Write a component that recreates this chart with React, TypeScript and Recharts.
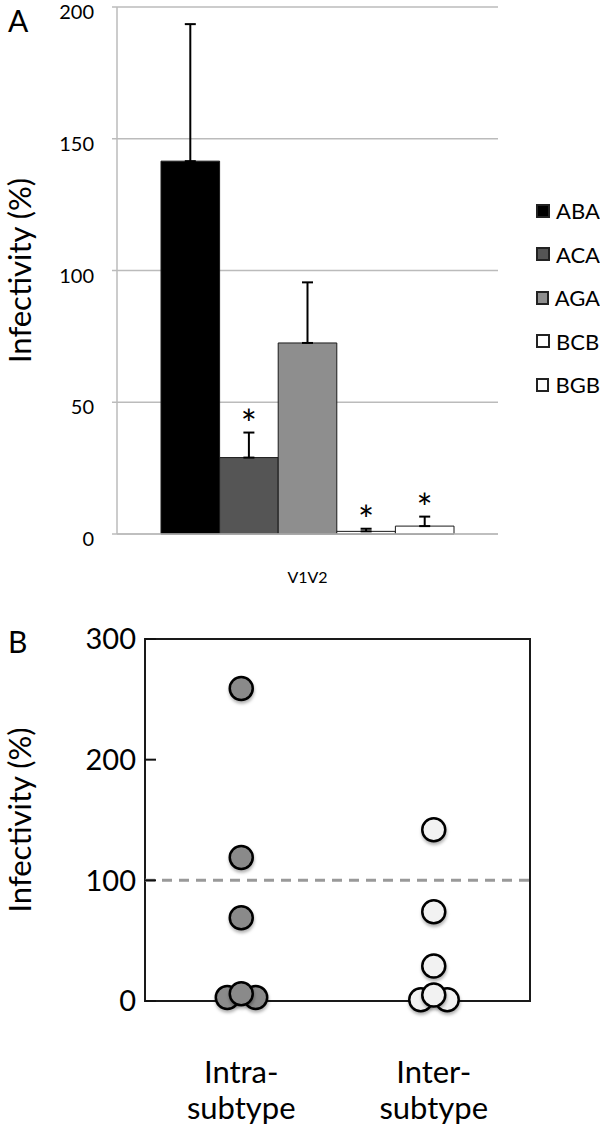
import React from 'react';
import {
  BarChart, Bar, XAxis, YAxis, CartesianGrid, ErrorBar, Legend, LabelList,
  ScatterChart, Scatter, ReferenceLine, ReferenceArea,
} from 'recharts';

const FONT = 'Lato, "Open Sans", sans-serif';

// Panel A: infectivity of V1V2 chimeras
const regionLabel = 'V1V2';
const chimeras = ['ABA', 'ACA', 'AGA', 'BCB', 'BGB'];
const meanInfectivity = [141.5, 29, 72.5, 1, 3];
const sdInfectivity = [52, 9.5, 23, 1, 3.6];
const significant = [false, true, false, true, true];
const barColors = ['#000000', '#555555', '#8e8e8e', '#ffffff', '#ffffff'];
const ticksA = [0, 50, 100, 150, 200];

// Panel B: individual chimeras grouped by subtype
const groupLabels = [['Intra-', 'subtype'], ['Inter-', 'subtype']];
const intraValues = [259, 119, 69, 3, 3, 6];
const intraJitter = [0, 0, 0, -0.145, 0.15, 0];
const interValues = [142, 74, 29, 1, 1, 5];
const interJitter = [0, 0, 0, -0.135, 0.14, 0];
const ticksB = [0, 100, 200, 300];

const barRow: Record<string, any> = { name: regionLabel };
chimeras.forEach((c, i) => {
  barRow[c] = meanInfectivity[i];
  barRow[`${c}_err`] = [0, sdInfectivity[i]];
  barRow[`${c}_sig`] = significant[i] ? '*' : '';
});
const barData = [barRow];

const intraPoints = intraValues.map((v, i) => ({ x: 1 + intraJitter[i], y: v }));
const interPoints = interValues.map((v, i) => ({ x: 3 + interJitter[i], y: v }));

const starLabel = (i: number) => (props: any) => {
  const { x, y, width, height, value } = props;
  if (!value) return null;
  const perUnit = height / meanInfectivity[i];
  const top = y - sdInfectivity[i] * perUnit;
  return (
    <text x={x + width / 2} y={top + 5} textAnchor="middle" fontSize={38} fontFamily={FONT} fill="#000">
      {value}
    </text>
  );
};

const axisTitle = (cx: number) => (props: any) => {
  const { viewBox } = props;
  const cy = viewBox.y + viewBox.height / 2;
  return (
    <text x={cx} y={cy} transform={`rotate(-90, ${cx}, ${cy})`} textAnchor="middle"
      dominantBaseline="central" fontSize={31} fontFamily={FONT} fill="#000">
      Infectivity (%)
    </text>
  );
};

const LegendA = (props: any) => (
  <div style={{ fontFamily: FONT }}>
    {(props.payload || []).map((p: any) => (
      <div key={p.value} style={{ display: 'flex', alignItems: 'center', height: 43.5 }}>
        <span style={{ width: 10, height: 10, border: '2px solid #222', background: p.color, display: 'inline-block' }} />
        <span style={{ marginLeft: 6, fontSize: 22, color: '#000' }}>{p.value}</span>
      </div>
    ))}
  </div>
);

const TickA = (props: any) => {
  const { x, y, payload } = props;
  return (
    <text x={x} y={y + 5} dy="0.355em" textAnchor="end" fontSize={20} fontFamily={FONT} fill="#000">
      {payload.value}
    </text>
  );
};

const TickB = (props: any) => {
  const { x, y, payload } = props;
  return (
    <g>
      <line x1={x + 9} x2={x + 20} y1={y} y2={y} stroke="#111" strokeWidth={2} />
      <text x={x} y={y} dy="0.355em" textAnchor="end" fontSize={29} fontFamily={FONT} fill="#000">
        {payload.value}
      </text>
    </g>
  );
};

const GroupTick = (props: any) => {
  const { x, y, payload } = props;
  const lines = groupLabels[payload.value === 1 ? 0 : 1];
  return (
    <text x={x} y={y} textAnchor="middle" fontSize={31} fontFamily={FONT} fill="#000">
      <tspan x={x} dy={82}>{lines[0]}</tspan>
      <tspan x={x} dy={36}>{lines[1]}</tspan>
    </text>
  );
};

const Dot = (fill: string) => (props: any) => (
  <circle cx={props.cx} cy={props.cy} r={11.5} fill={fill} stroke="#000" strokeWidth={2.5}
    filter="url(#dotShadow)" />
);

export default function App() {
  return (
    <div style={{ position: 'absolute', left: 0, top: 0, width: 600, height: 1130, background: '#fff', fontFamily: FONT }}>
      <svg width={600} height={1130} style={{ position: 'absolute', left: 0, top: 0 }}>
        <defs>
          <filter id="dotShadow" x="-50%" y="-50%" width="200%" height="200%">
            <feDropShadow dx="0.5" dy="2.5" stdDeviation="1.8" floodColor="#000" floodOpacity="0.3" />
          </filter>
        </defs>
        <text x={8} y={32} fontSize={30} fontFamily={FONT} fill="#000">A</text>
        <text x={8} y={653} fontSize={30} fontFamily={FONT} fill="#000">B</text>
      </svg>

      <div style={{ position: 'absolute', left: 0, top: 0 }}>
        <BarChart width={600} height={600} data={barData} barGap={0}
          margin={{ top: 7, right: 102, left: 0, bottom: 0 }}>
          <CartesianGrid vertical={false} stroke="#bbbbbb" strokeWidth={1.5} />
          <XAxis dataKey="name" height={66} axisLine={{ stroke: '#bbbbbb', strokeWidth: 1.5 }}
            tickLine={false} tickSize={0} tickMargin={38}
            tick={{ fontSize: 16, fontFamily: FONT, fill: '#000' }} />
          <YAxis width={117} domain={[0, 200]} ticks={ticksA} interval={0}
            axisLine={{ stroke: '#bbbbbb', strokeWidth: 1.5 }}
            tickLine={{ stroke: '#bbbbbb', strokeWidth: 1.5 }} tickSize={5} tickMargin={18}
            tick={<TickA />}
            label={{ content: axisTitle(19) }} />
          <YAxis yAxisId="frame" orientation="right" width={0} domain={[0, 200]} tick={false}
            tickLine={false} axisLine={{ stroke: '#bbbbbb', strokeWidth: 1.5 }} />
          <Legend layout="vertical" align="center" verticalAlign="middle" content={LegendA}
            wrapperStyle={{ left: 536, top: 189, width: 64 }} />
          {chimeras.map((c, i) => (
            <Bar key={c} dataKey={c} name={c} fill={barColors[i]} stroke="#1a1a1a" strokeWidth={1}
              barSize={58.6} isAnimationActive={false}>
              <ErrorBar dataKey={`${c}_err`} direction="y" width={5.5} stroke="#000" strokeWidth={2} />
              <LabelList dataKey={`${c}_sig`} content={starLabel(i)} />
            </Bar>
          ))}
        </BarChart>
      </div>

      <div style={{ position: 'absolute', left: 0, top: 600 }}>
        <ScatterChart width={600} height={530} margin={{ top: 39, right: 70, left: 0, bottom: 0 }}>
          <XAxis type="number" dataKey="x" domain={[0, 4]} ticks={[1, 3]} interval={0} height={129}
            axisLine={false} tickLine={false} tickSize={0} tickMargin={0} tick={<GroupTick />} />
          <YAxis type="number" dataKey="y" domain={[0, 300]} ticks={ticksB} interval={0} width={145}
            axisLine={false} tickLine={false} tickSize={0} tickMargin={9} tick={<TickB />}
            label={{ content: axisTitle(19) }} />
          <ReferenceArea x1={0} x2={4} y1={0} y2={300} fill="none" fillOpacity={0}
            stroke="#1a1a1a" strokeWidth={2} />
          <ReferenceLine y={100} stroke="#999999" strokeWidth={3} strokeDasharray="10 7" />
          <Scatter data={intraPoints} shape={Dot('#8a8a8a')} isAnimationActive={false} />
          <Scatter data={interPoints} shape={Dot('#f2f2f2')} isAnimationActive={false} />
        </ScatterChart>
      </div>
    </div>
  );
}
